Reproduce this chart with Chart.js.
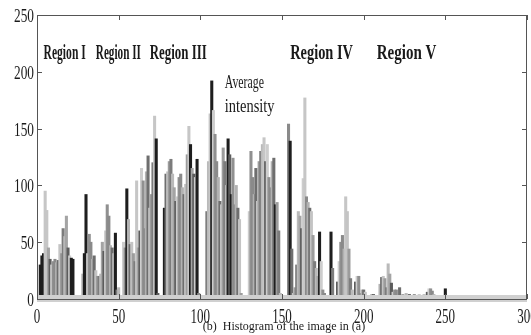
<!DOCTYPE html>
<html>
<head>
<meta charset="utf-8">
<script src="https://cdn.jsdelivr.net/npm/chart.js@4.4.1/dist/chart.umd.min.js"></script>
<style>
  html, body { margin: 0; padding: 0; background: #fff; }
  #wrap { width: 531px; height: 335px; }
</style>
</head>
<body>
<div id="wrap"><canvas id="histChart"></canvas></div>
<script>
// pixel counts per gray level 0..255
const binCounts = [
  0, 0, 30, 38, 40, 95, 78, 45, 35, 30,
  33, 35, 32, 34, 48, 40, 62, 55, 73, 45,
  38, 36, 35, 0, 0, 0, 0, 0, 22, 40,
  92, 40, 57, 50, 35, 38, 25, 20, 20, 22,
  50, 42, 60, 83, 73, 47, 45, 40, 58, 8,
  10, 0, 0, 50, 45, 97, 70, 48, 50, 40,
  33, 104, 45, 60, 115, 104, 62, 112, 126, 80,
  92, 120, 161, 141, 5, 0, 0, 0, 80, 110,
  112, 121, 123, 110, 98, 86, 90, 107, 110, 98,
  92, 101, 127, 152, 136, 115, 110, 107, 123, 5,
  0, 0, 0, 0, 77, 121, 163, 192, 166, 145,
  121, 107, 86, 83, 133, 121, 100, 141, 127, 92,
  124, 83, 100, 80, 70, 5, 0, 0, 0, 0,
  77, 130, 107, 92, 115, 86, 121, 130, 136, 142,
  121, 136, 107, 98, 121, 124, 83, 85, 60, 5,
  0, 0, 0, 0, 154, 139, 44, 5, 10, 30,
  77, 73, 62, 106, 177, 90, 85, 80, 77, 56,
  33, 27, 20, 59, 33, 8, 5, 0, 0, 0,
  59, 27, 0, 0, 15, 33, 50, 56, 44, 90,
  77, 44, 18, 8, 0, 15, 20, 20, 5, 8,
  8, 6, 0, 0, 0, 4, 4, 3, 0, 0,
  13, 19, 20, 18, 10, 31, 22, 14, 6, 8,
  8, 3, 10, 2, 4, 3, 5, 2, 4, 3,
  3, 4, 2, 3, 4, 2, 3, 4, 2, 6,
  9, 9, 7, 4, 2, 3, 2, 2, 3, 2,
  9, 0, 0, 0, 0, 0
];

const xTickValues = [0, 50, 100, 150, 200, 250, 300];
const yTickValues = [0, 50, 100, 150, 200, 250];

const regionLabels = ['Region I', 'Region II', 'Region III', 'Region IV', 'Region V'];
const regionStarts = [4, 36, 69, 155, 208]; // gray level where each label begins
const regionLevel = 211;                     // count level of the label baseline

const avgLines = ['Average', 'intensity'];
const avgStart = 115;
const avgLevels = [186, 165];

const captionText = '(b)  Histogram of the image in (a)';

// styles (not data)
const darkBins = [2, 3, 4, 21, 22, 29, 30, 48, 55, 73, 78, 94, 98, 107, 117, 119, 146, 155, 173, 180, 250];
const lightBins = [5, 6, 61, 72, 93, 106, 139, 164, 189];
const shadeCycle = ['#8a8a8a', '#b2b2b2', '#6e6e6e', '#c4c4c4', '#9c9c9c', '#7c7c7c', '#bababa', '#a4a4a4', '#5c5c5c', '#cdcdcd', '#909090'];
const regionSquash = [0.58, 0.56, 0.645, 0.72, 0.75];

function barColor(i) {
  if (darkBins.includes(i)) return '#1e1e1e';
  if (lightBins.includes(i)) return '#c6c6c6';
  return shadeCycle[i % shadeCycle.length];
}

function drawSquashed(ctx, text, px, py, font, sx, align) {
  ctx.save();
  ctx.font = font;
  ctx.textAlign = align;
  ctx.textBaseline = 'alphabetic';
  ctx.translate(px, py);
  ctx.scale(sx, 1);
  ctx.fillText(text, 0, 0);
  ctx.restore();
}

const histDecor = {
  id: 'histDecor',
  afterDatasetsDraw(chart) {
    const { ctx, chartArea: a, scales: { y } } = chart;
    const y0 = y.getPixelForValue(0);
    // light strip along the bottom, like imhist draws
    ctx.save();
    ctx.fillStyle = '#d0d0d0';
    ctx.fillRect(a.left, y0 - 4, a.right - a.left, 7);
    ctx.restore();
  },
  afterDraw(chart) {
    const { ctx, chartArea: a, scales: { x, y } } = chart;
    ctx.save();
    ctx.strokeStyle = '#555';
    ctx.lineWidth = 1;
    ctx.strokeRect(Math.round(a.left) + 0.5, Math.round(a.top) + 0.5,
      Math.round(a.right - a.left) - 1, Math.round(a.bottom - a.top));

    // inward tick marks on all four sides
    ctx.beginPath();
    yTickValues.forEach((v) => {
      const py = Math.round(y.getPixelForValue(v)) + 0.5;
      ctx.moveTo(a.left, py); ctx.lineTo(a.left + 5, py);
      ctx.moveTo(a.right, py); ctx.lineTo(a.right - 5, py);
    });
    xTickValues.forEach((v) => {
      const px = Math.round(x.getPixelForValue(v)) + 0.5;
      ctx.moveTo(px, a.bottom); ctx.lineTo(px, a.bottom - 5);
      ctx.moveTo(px, a.top); ctx.lineTo(px, a.top + 5);
    });
    ctx.stroke();

    ctx.fillStyle = '#1a1a1a';
    yTickValues.forEach((v) => {
      drawSquashed(ctx, String(v), a.left - 3, y.getPixelForValue(v) + 7,
        '19px "Liberation Serif"', 0.7, 'right');
    });
    xTickValues.forEach((v) => {
      drawSquashed(ctx, String(v), x.getPixelForValue(v), a.bottom + 24,
        '21px "Liberation Serif"', 0.62, 'center');
    });

    regionLabels.forEach((t, i) => {
      drawSquashed(ctx, t, x.getPixelForValue(regionStarts[i]), y.getPixelForValue(regionLevel),
        'bold 20px "Liberation Serif"', regionSquash[i], 'left');
    });
    avgLines.forEach((t, i) => {
      drawSquashed(ctx, t, x.getPixelForValue(avgStart), y.getPixelForValue(avgLevels[i]),
        '19px "Liberation Serif"', i === 0 ? 0.62 : 0.76, 'left');
    });

    drawSquashed(ctx, captionText, (a.left + a.right) / 2 + 2, chart.height - 5,
      '12px "Liberation Serif"', 1, 'center');
    ctx.restore();
  }
};

function mainEvent() {
  const target = document.querySelector('#histChart');
  const points = binCounts.map((v, i) => ({ x: i, y: v }));

  return new Chart(target, {
    type: 'bar',
    data: {
      datasets: [{
        label: 'Histogram',
        data: points,
        backgroundColor: binCounts.map((v, i) => barColor(i)),
        borderWidth: 0,
        barThickness: 2.4
      }]
    },
    options: {
      responsive: true,
      maintainAspectRatio: false,
      animation: false,
      devicePixelRatio: 1,
      layout: { padding: { top: 15, right: 4, left: 0, bottom: 0 } },
      plugins: { legend: { display: false }, tooltip: { enabled: false } },
      scales: {
        x: {
          type: 'linear',
          offset: false,
          min: 0,
          max: 300,
          ticks: { display: false, stepSize: 50 },
          grid: { display: false, offset: false },
          border: { display: false },
          afterFit(scale) { scale.height = 36; }
        },
        y: {
          min: 0,
          max: 250,
          ticks: { display: false, stepSize: 50 },
          grid: { display: false },
          border: { display: false },
          afterFit(scale) { scale.width = 37; }
        }
      }
    },
    plugins: [histDecor]
  });
}

document.addEventListener('DOMContentLoaded', () => mainEvent());
</script>
</body>
</html>
